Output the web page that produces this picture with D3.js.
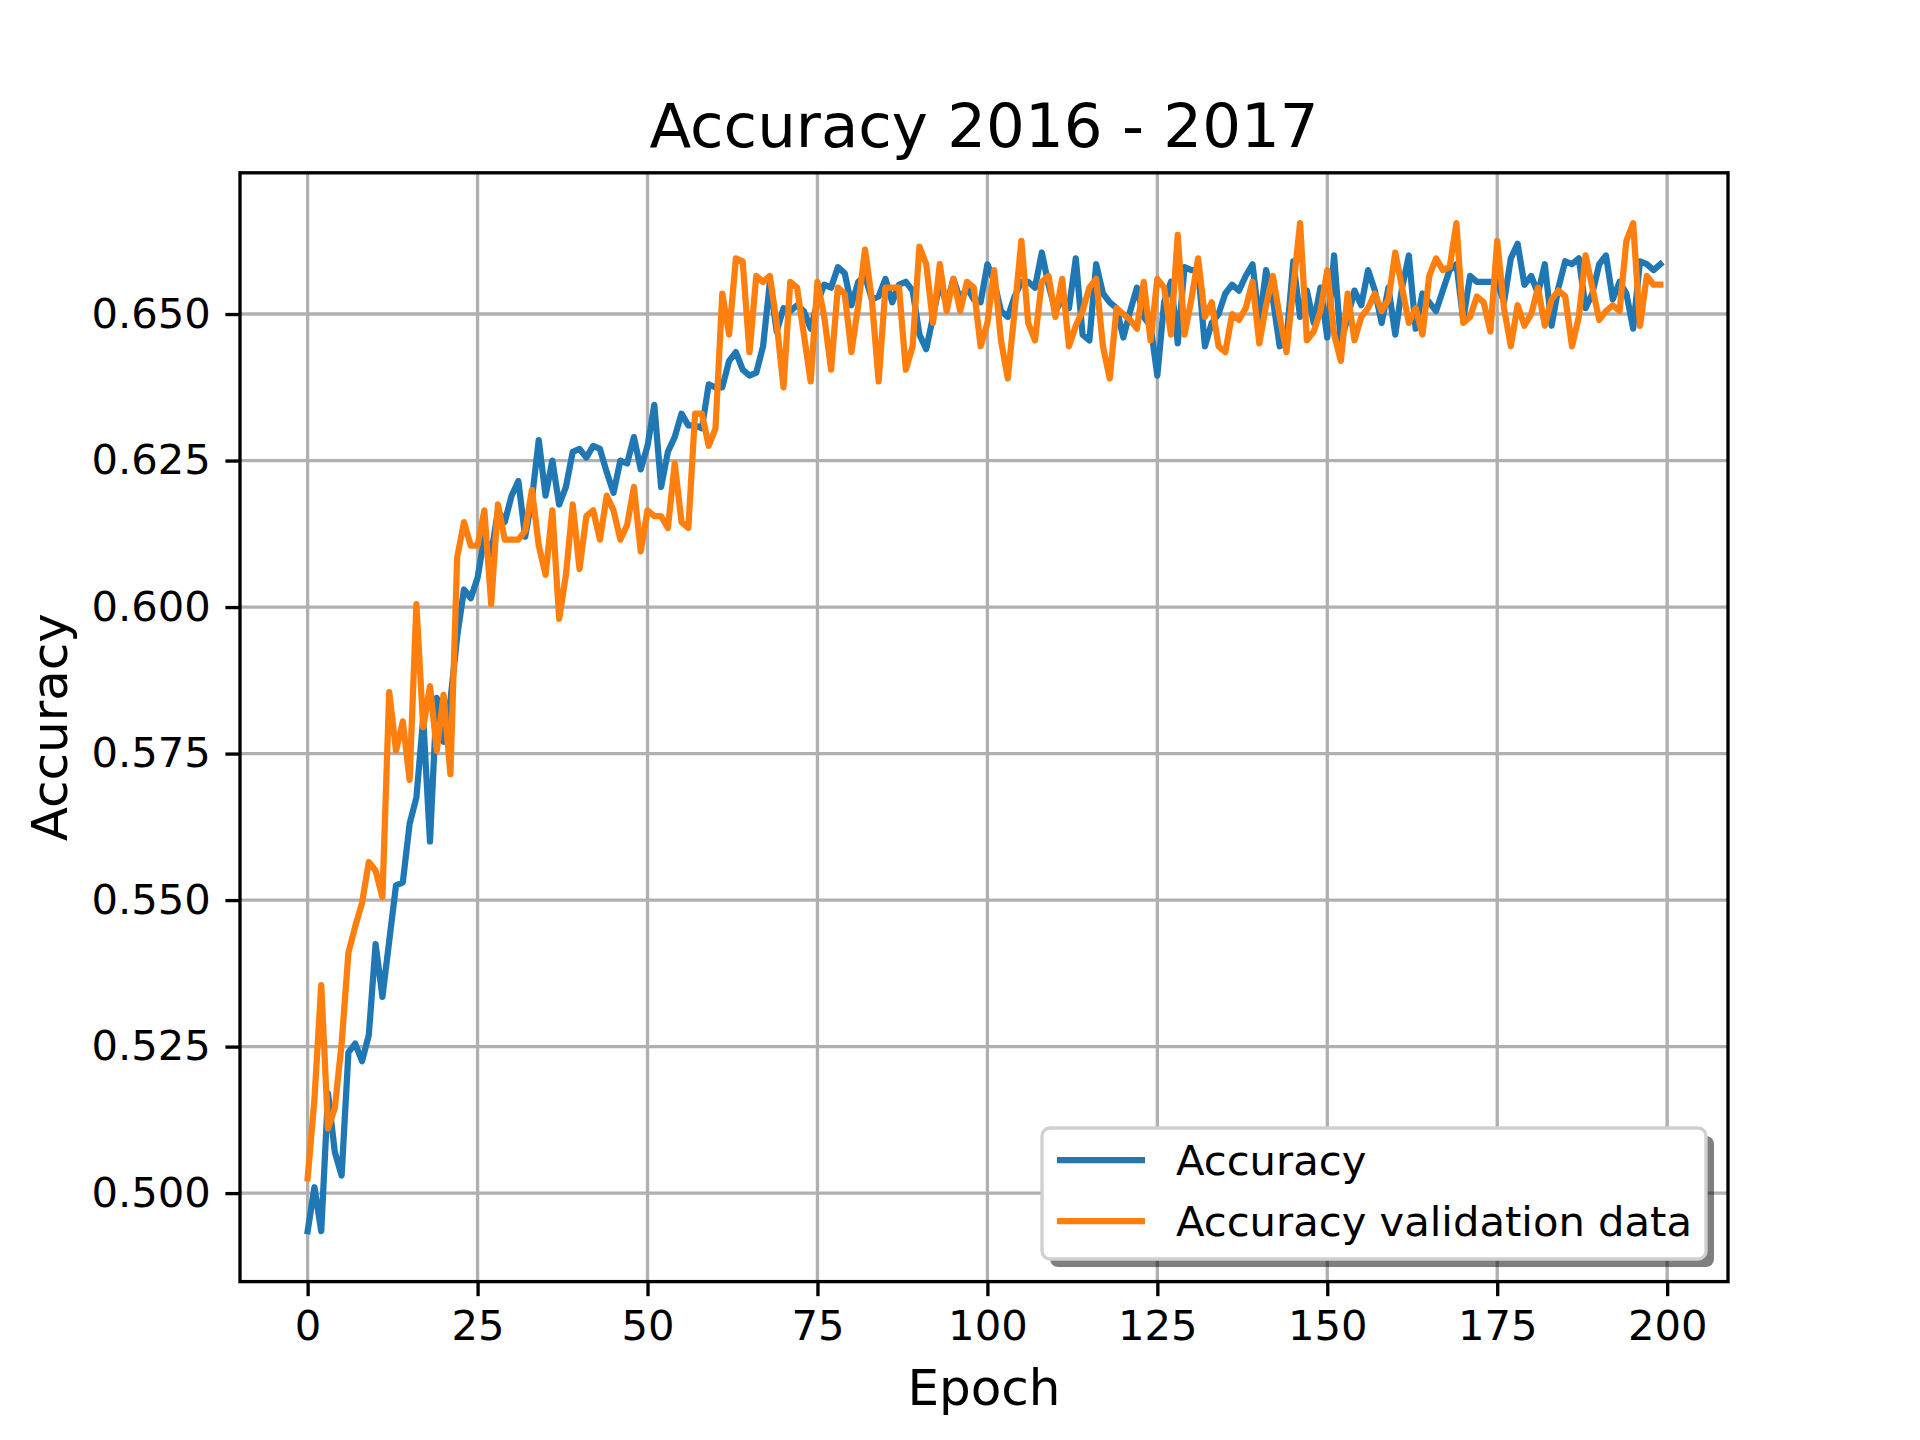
<!DOCTYPE html>
<html lang="en">
<head>
<meta charset="UTF-8">
<title>Accuracy 2016 - 2017</title>
<script src="https://d3js.org/d3.v7.min.js"></script>
<style>
  body { margin: 0; background: #fff; }
  text { font-family: "DejaVu Sans", sans-serif; }
</style>
</head>
<body>
<script>
// values
const accuracy = [
  0.4935, 0.501, 0.4935, 0.517, 0.507, 0.503, 0.524, 0.5255, 0.5225, 0.527,
  0.5425, 0.5335, 0.543, 0.5525, 0.553, 0.563, 0.5675, 0.581, 0.56, 0.5845,
  0.577, 0.584, 0.595, 0.603, 0.6015, 0.605, 0.612, 0.609, 0.6165, 0.6145,
  0.619, 0.6215, 0.612, 0.6185, 0.6285, 0.619, 0.625, 0.6175, 0.6205, 0.6265,
  0.627, 0.6255, 0.6275, 0.627, 0.623, 0.6195, 0.625, 0.6245, 0.629, 0.6235,
  0.6275, 0.6345, 0.6205, 0.6265, 0.629, 0.633, 0.631, 0.631, 0.6305, 0.638,
  0.6375, 0.6375, 0.642, 0.6435, 0.6405, 0.6395, 0.640, 0.6445, 0.6555, 0.647,
  0.651, 0.6505, 0.6515, 0.6505, 0.6475, 0.652, 0.655, 0.6545, 0.658, 0.657,
  0.6515, 0.6555, 0.6565, 0.6525, 0.653, 0.656, 0.652, 0.655, 0.6555, 0.654,
  0.6465, 0.644, 0.6495, 0.6555, 0.6515, 0.656, 0.6525, 0.6545, 0.6525, 0.652,
  0.6585, 0.6555, 0.6505, 0.6495, 0.653, 0.6555, 0.6555, 0.6545, 0.6605, 0.655,
  0.6505, 0.6525, 0.651, 0.6595, 0.6465, 0.6455, 0.6585, 0.6535, 0.652, 0.651,
  0.646, 0.6505, 0.6545, 0.6495, 0.648, 0.6395, 0.652, 0.6555, 0.645, 0.658,
  0.6575, 0.6575, 0.6445, 0.6485, 0.650, 0.6535, 0.655, 0.654, 0.6565, 0.6585,
  0.6485, 0.6575, 0.6525, 0.6445, 0.6455, 0.659, 0.6495, 0.654, 0.6485, 0.6545,
  0.646, 0.660, 0.645, 0.6495, 0.654, 0.6515, 0.6575, 0.654, 0.6485, 0.6545,
  0.6465, 0.6545, 0.660, 0.6475, 0.6535, 0.652, 0.6505, 0.654, 0.6575, 0.6585,
  0.649, 0.6565, 0.6555, 0.6555, 0.6555, 0.6555, 0.652, 0.6595, 0.662, 0.655,
  0.6565, 0.6535, 0.6585, 0.648, 0.6545, 0.659, 0.6585, 0.6595, 0.651, 0.6535,
  0.6585, 0.660, 0.6525, 0.6555, 0.6535, 0.6475, 0.659, 0.6585, 0.6575, 0.6585
];
const valAccuracy = [
  0.5025, 0.516, 0.5355, 0.511, 0.5145, 0.5255, 0.541, 0.5455, 0.5495, 0.5565,
  0.555, 0.5505, 0.5855, 0.5755, 0.5805, 0.5705, 0.6005, 0.5795, 0.5865, 0.5755,
  0.585, 0.5715, 0.6085, 0.6145, 0.6105, 0.6105, 0.6165, 0.6005, 0.6175, 0.6115,
  0.6115, 0.6115, 0.613, 0.620, 0.6105, 0.6055, 0.6165, 0.598, 0.6055, 0.6175,
  0.6065, 0.6155, 0.6165, 0.6115, 0.619, 0.6165, 0.6115, 0.614, 0.6205, 0.6095,
  0.6165, 0.6155, 0.6155, 0.6135, 0.6245, 0.6145, 0.6135, 0.633, 0.633, 0.6275,
  0.6305, 0.6535, 0.6465, 0.6595, 0.659, 0.6435, 0.6565, 0.6555, 0.6565, 0.6485,
  0.6375, 0.6555, 0.6545, 0.6465, 0.6385, 0.6555, 0.6495, 0.6405, 0.6545, 0.6535,
  0.6435, 0.6515, 0.661, 0.6525, 0.6385, 0.6545, 0.6545, 0.6545, 0.6405, 0.6445,
  0.6615, 0.6585, 0.6485, 0.6585, 0.6505, 0.656, 0.6505, 0.6555, 0.6545, 0.6445,
  0.6485, 0.6575, 0.6455, 0.639, 0.6505, 0.6625, 0.6485, 0.6455, 0.6555, 0.6565,
  0.6495, 0.656, 0.6445, 0.648, 0.6505, 0.6545, 0.656, 0.6445, 0.639, 0.651,
  0.650, 0.649, 0.6475, 0.6555, 0.6455, 0.656, 0.6545, 0.6465, 0.6635, 0.6465,
  0.6525, 0.6595, 0.6495, 0.652, 0.6445, 0.6435, 0.650, 0.649, 0.651, 0.6555,
  0.645, 0.6515, 0.6565, 0.6495, 0.6435, 0.6545, 0.6655, 0.6455, 0.647, 0.6505,
  0.6575, 0.6465, 0.642, 0.6535, 0.6455, 0.6495, 0.651, 0.6535, 0.6505, 0.6525,
  0.6605, 0.6545, 0.6485, 0.651, 0.6465, 0.6565, 0.6595, 0.6575, 0.658, 0.6655,
  0.6485, 0.6495, 0.653, 0.652, 0.647, 0.6625, 0.651, 0.6445, 0.6515, 0.648,
  0.650, 0.6545, 0.648, 0.6525, 0.654, 0.653, 0.6445, 0.6495, 0.660, 0.6545,
  0.649, 0.6505, 0.6515, 0.6505, 0.6625, 0.6655, 0.648, 0.6565, 0.655, 0.655
];
const xTicks = [0, 25, 50, 75, 100, 125, 150, 175, 200];
const yTicks = [0.500, 0.525, 0.550, 0.575, 0.600, 0.625, 0.650];
const seriesNames = ["Accuracy", "Accuracy validation data"];
const seriesColors = ["#1f77b4", "#ff7f0e"];

const width = 1920, height = 1440;
const margin = {top: 172.8, right: 192, bottom: 158.4, left: 240};
const pt = 300 / 72;

const svg = d3.select("body").append("svg")
    .attr("width", width)
    .attr("height", height);

// matplotlib style 5% margins on both axes
const n = accuracy.length;
const xPad = (n - 1) * 0.05;
const yMin = d3.min([...accuracy, ...valAccuracy]);
const yMax = d3.max([...accuracy, ...valAccuracy]);
const yPad = (yMax - yMin) * 0.05;

const x = d3.scaleLinear()
    .domain([-xPad, n - 1 + xPad])
    .range([margin.left, width - margin.right]);
const y = d3.scaleLinear()
    .domain([yMin - yPad, yMax + yPad])
    .range([height - margin.bottom, margin.top]);

// grid
svg.append("g")
    .selectAll("line.gx")
    .data(xTicks)
    .join("line")
    .attr("x1", d => x(d)).attr("x2", d => x(d))
    .attr("y1", margin.top).attr("y2", height - margin.bottom)
    .attr("stroke", "#b0b0b0").attr("stroke-width", 0.8 * pt);
svg.append("g")
    .selectAll("line.gy")
    .data(yTicks)
    .join("line")
    .attr("y1", d => y(d)).attr("y2", d => y(d))
    .attr("x1", margin.left).attr("x2", width - margin.right)
    .attr("stroke", "#b0b0b0").attr("stroke-width", 0.8 * pt);

// lines
const line = d3.line()
    .x((d, i) => x(i))
    .y(d => y(d));

[accuracy, valAccuracy].forEach((s, i) => {
    svg.append("path")
        .datum(s)
        .attr("fill", "none")
        .attr("stroke", seriesColors[i])
        .attr("stroke-width", 1.5 * pt)
        .attr("stroke-linejoin", "round")
        .attr("stroke-linecap", "square")
        .attr("d", line);
});

// axes
const xAxis = svg.append("g")
    .attr("transform", `translate(0,${height - margin.bottom})`)
    .call(d3.axisBottom(x).tickValues(xTicks).tickFormat(d3.format("d"))
        .tickSize(3.5 * pt).tickPadding(3.5 * pt));
const yAxis = svg.append("g")
    .attr("transform", `translate(${margin.left},0)`)
    .call(d3.axisLeft(y).tickValues(yTicks).tickFormat(d3.format(".3f"))
        .tickSize(3.5 * pt).tickPadding(3.5 * pt));

[xAxis, yAxis].forEach(g => {
    g.select(".domain").remove();
    g.selectAll(".tick line").attr("stroke", "#000").attr("stroke-width", 0.8 * pt);
    g.selectAll(".tick text")
        .attr("fill", "#000")
        .style("font-size", "41.7px")
        .style("font-family", "'DejaVu Sans', sans-serif");
});

// frame
svg.append("rect")
    .attr("x", margin.left).attr("y", margin.top)
    .attr("width", width - margin.left - margin.right)
    .attr("height", height - margin.top - margin.bottom)
    .attr("fill", "none")
    .attr("stroke", "#000")
    .attr("stroke-width", 0.8 * pt);

// labels
svg.append("text")
    .attr("x", (margin.left + width - margin.right) / 2)
    .attr("y", 147)
    .attr("text-anchor", "middle")
    .style("font-size", "61px")
    .text("Accuracy 2016 - 2017");
svg.append("text")
    .attr("x", (margin.left + width - margin.right) / 2)
    .attr("y", 1405)
    .attr("text-anchor", "middle")
    .style("font-size", "50px")
    .text("Epoch");
svg.append("text")
    .attr("transform", `translate(67,${(margin.top + height - margin.bottom) / 2}) rotate(-90)`)
    .attr("text-anchor", "middle")
    .style("font-size", "50px")
    .text("Accuracy");

// legend, lower right with shadow
const lg = {x: 1042, y: 1128, w: 664, h: 131};
svg.append("rect")
    .attr("x", lg.x + 8).attr("y", lg.y + 8)
    .attr("width", lg.w).attr("height", lg.h)
    .attr("rx", 8)
    .attr("fill", "#000").attr("fill-opacity", 0.5);
svg.append("rect")
    .attr("x", lg.x).attr("y", lg.y)
    .attr("width", lg.w).attr("height", lg.h)
    .attr("rx", 8)
    .attr("fill", "#fff")
    .attr("stroke", "#d0d0d0")
    .attr("stroke-width", 0.8 * pt);

const items = svg.append("g")
    .selectAll("g")
    .data(seriesNames)
    .join("g")
    .attr("transform", (d, i) => `translate(${lg.x + 15},${lg.y + 32 + i * 61})`);
items.append("line")
    .attr("x1", 0).attr("x2", 88)
    .attr("stroke", (d, i) => seriesColors[i])
    .attr("stroke-width", 1.5 * pt);
items.append("text")
    .attr("x", 119)
    .attr("dy", "0.35em")
    .style("font-size", "41.7px")
    .text(d => d);
</script>
</body>
</html>
